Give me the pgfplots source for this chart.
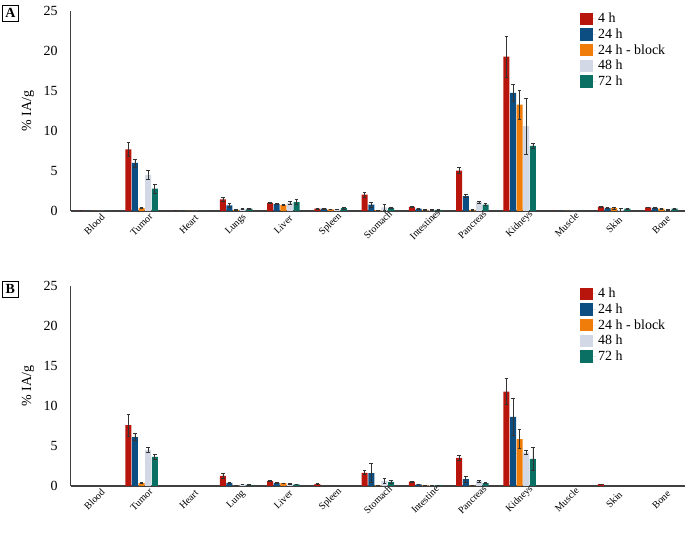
\documentclass[border=0pt]{standalone}
\usepackage{pgfplots}
\pgfplotsset{compat=1.18}
\usepackage{fontspec}
\setmainfont{Liberation Serif}
\definecolor{cA}{RGB}{184,22,12}
\definecolor{cB}{RGB}{12,78,130}
\definecolor{cC}{RGB}{240,124,10}
\definecolor{cD}{RGB}{210,216,230}
\definecolor{cE}{RGB}{10,112,100}
\definecolor{axc}{RGB}{64,64,64}
\newlength\lw
\newcommand{\fs}{\fontsize{14}{16}\selectfont}
% label centred on x (bp); top of its rotated box at y (bp)
\newcommand{\olab}[3]{\settowidth{\lw}{#3}%
\node[rotate=45, inner sep=0pt] at ([yshift={-0.35355*\lw-0.35355*10bp}]#1bp,#2bp) {#3};}
\pgfplotsset{
  organ/.style={
    scale only axis, width=614.3bp, height=200bp,
    ybar=0.6bp, bar width=6bp,
    xmin=-0.5, xmax=12.5, ymin=0, ymax=25,
    xtick={0,...,12}, xticklabels={}, ytick={0,5,10,15,20,25},
    axis x line*=bottom, axis y line*=left,
    axis line style={axc, line width=1.2bp},
    major tick length=0pt,
    tick label style={font=\fs},
    /pgf/number format/assume math mode=true,
    yticklabel style={anchor=east, inner sep=0pt, xshift=-13bp},
    every axis y label/.style={at={(rel axis cs:0,0.5)}, xshift=-42.7bp, rotate=90, anchor=center, font=\fs},
    ylabel={\% IA/g},
    legend style={at={(0.829,1.0)}, anchor=north west, draw=none, fill=none,
      font=\fs, row sep=0.5bp, inner sep=0pt},
    legend cell align=left,
    legend image code/.code={\fill[##1] (0bp,-6.2bp) rectangle (12.5bp,6.2bp); \path (12.5bp,0) -- (16bp,0);},
    error bars/y dir=both, error bars/y explicit,
    error bars/error bar style={black!80, line width=0.6bp},
    error bars/error mark options={rotate=90, mark size=1.8bp, black!80, line width=0.6bp},
  },
  sA/.style={fill=cA, draw=none},
  sB/.style={fill=cB, draw=none},
  sC/.style={fill=cC, draw=none},
  sD/.style={fill=cD, draw=none},
  sE/.style={fill=cE, draw=none},
}
\begin{document}
\begin{tikzpicture}
\useasboundingbox (0,0) rectangle (685bp,540bp);
% Panel A
\begin{axis}[organ, at={(70.7bp,329bp)}, anchor=south west]
\addplot[sA] coordinates {(0,0.08)+-(0,0.02) (1,7.7)+-(0,0.85) (2,0.05)+-(0,0.01) (3,1.45)+-(0,0.25) (4,1.0)+-(0,0.08) (5,0.3)+-(0,0.05) (6,2.05)+-(0,0.3) (7,0.5)+-(0,0.05) (8,5.05)+-(0,0.4) (9,19.3)+-(0,2.55) (10,0)+-(0,0) (11,0.55)+-(0,0.05) (12,0.45)+-(0,0.05)};
\addplot[sB] coordinates {(0,0.02)+-(0,0) (1,6.0)+-(0,0.5) (2,0.02)+-(0,0) (3,0.7)+-(0,0.2) (4,0.85)+-(0,0.05) (5,0.3)+-(0,0.05) (6,0.8)+-(0,0.3) (7,0.3)+-(0,0.03) (8,1.85)+-(0,0.2) (9,14.75)+-(0,1.1) (10,0)+-(0,0) (11,0.4)+-(0,0.05) (12,0.4)+-(0,0.1)};
\addplot[sC] coordinates {(0,0.02)+-(0,0) (1,0.4)+-(0,0.1) (2,0.02)+-(0,0) (3,0.15)+-(0,0.02) (4,0.75)+-(0,0.03) (5,0.2)+-(0,0.03) (6,0.1)+-(0,0.02) (7,0.15)+-(0,0.02) (8,0.15)+-(0,0.02) (9,13.3)+-(0,1.8) (10,0)+-(0,0) (11,0.35)+-(0,0.15) (12,0.3)+-(0,0.05)};
\addplot[sD] coordinates {(0,0.02)+-(0,0) (1,4.5)+-(0,0.6) (2,0.02)+-(0,0) (3,0.3)+-(0,0.05) (4,1.0)+-(0,0.2) (5,0.2)+-(0,0.05) (6,0.45)+-(0,0.35) (7,0.15)+-(0,0.02) (8,1.1)+-(0,0.15) (9,10.6)+-(0,3.5) (10,0)+-(0,0) (11,0.15)+-(0,0.15) (12,0.15)+-(0,0.05)};
\addplot[sE] coordinates {(0,0.02)+-(0,0) (1,2.8)+-(0,0.55) (2,0.02)+-(0,0) (3,0.3)+-(0,0.05) (4,1.1)+-(0,0.3) (5,0.35)+-(0,0.15) (6,0.4)+-(0,0.05) (7,0.15)+-(0,0.02) (8,0.8)+-(0,0.1) (9,8.15)+-(0,0.3) (10,0)+-(0,0) (11,0.3)+-(0,0.05) (12,0.3)+-(0,0.05)};
\legend{4 h,24 h,24 h - block,48 h,72 h}
\end{axis}
% Panel B
\begin{axis}[organ, at={(70.7bp,54bp)}, anchor=south west]
\addplot[sA] coordinates {(0,0)+-(0,0) (1,7.6)+-(0,1.4) (2,0)+-(0,0) (3,1.25)+-(0,0.3) (4,0.6)+-(0,0.05) (5,0.25)+-(0,0.05) (6,1.65)+-(0,0.25) (7,0.55)+-(0,0.05) (8,3.5)+-(0,0.35) (9,11.8)+-(0,1.6) (10,0)+-(0,0) (11,0.22)+-(0,0.03) (12,0)+-(0,0)};
\addplot[sB] coordinates {(0,0)+-(0,0) (1,6.1)+-(0,0.45) (2,0)+-(0,0) (3,0.4)+-(0,0.03) (4,0.4)+-(0,0.03) (5,0)+-(0,0) (6,1.6)+-(0,1.2) (7,0.2)+-(0,0.02) (8,0.85)+-(0,0.35) (9,8.65)+-(0,2.35) (10,0)+-(0,0) (11,0)+-(0,0) (12,0)+-(0,0)};
\addplot[sC] coordinates {(0,0)+-(0,0) (1,0.35)+-(0,0.05) (2,0)+-(0,0) (3,0.05)+-(0,0.01) (4,0.35)+-(0,0.03) (5,0)+-(0,0) (6,0.1)+-(0,0.02) (7,0.1)+-(0,0.02) (8,0.05)+-(0,0.01) (9,5.85)+-(0,1.2) (10,0)+-(0,0) (11,0)+-(0,0) (12,0)+-(0,0)};
\addplot[sD] coordinates {(0,0)+-(0,0) (1,4.5)+-(0,0.3) (2,0)+-(0,0) (3,0.2)+-(0,0.05) (4,0.3)+-(0,0.03) (5,0)+-(0,0) (6,0.6)+-(0,0.3) (7,0.1)+-(0,0.02) (8,0.6)+-(0,0.1) (9,4.2)+-(0,0.25) (10,0)+-(0,0) (11,0)+-(0,0) (12,0)+-(0,0)};
\addplot[sE] coordinates {(0,0)+-(0,0) (1,3.65)+-(0,0.35) (2,0)+-(0,0) (3,0.15)+-(0,0.02) (4,0.2)+-(0,0.02) (5,0)+-(0,0) (6,0.5)+-(0,0.15) (7,0.1)+-(0,0.02) (8,0.35)+-(0,0.05) (9,3.4)+-(0,1.4) (10,0)+-(0,0) (11,0)+-(0,0) (12,0)+-(0,0)};
\legend{4 h,24 h,24 h - block,48 h,72 h}
\end{axis}
% category labels (x = 94.325 + 47.25 i)
\olab{94.3}{319}{Blood}
\olab{141.6}{319}{Tumor}
\olab{188.8}{319}{Heart}
\olab{236.1}{319}{Lungs}
\olab{283.3}{319}{Liver}
\olab{330.6}{319}{Spleen}
\olab{377.8}{319}{Stomach}
\olab{425.1}{319}{Intestines}
\olab{472.3}{319}{Pancreas}
\olab{519.6}{319}{Kidneys}
\olab{566.8}{319}{Muscle}
\olab{614.1}{319}{Skin}
\olab{661.3}{319}{Bone}
\olab{94.3}{44}{Blood}
\olab{141.6}{44}{Tumor}
\olab{188.8}{44}{Heart}
\olab{236.1}{44}{Lung}
\olab{283.3}{44}{Liver}
\olab{330.6}{44}{Spleen}
\olab{377.8}{44}{Stomach}
\olab{425.1}{44}{Intestine}
\olab{472.3}{44}{Pancreas}
\olab{519.6}{44}{Kidneys}
\olab{566.8}{44}{Muscle}
\olab{614.1}{44}{Skin}
\olab{661.3}{44}{Bone}
\node[draw=black, line width=0.8bp, font=\bfseries\fs, inner sep=0pt, minimum size=16bp, anchor=north west] at (2bp,535bp) {A};
\node[draw=black, line width=0.8bp, font=\bfseries\fs, inner sep=0pt, minimum size=16bp, anchor=north west] at (2bp,259bp) {B};
\end{tikzpicture}
\end{document}
